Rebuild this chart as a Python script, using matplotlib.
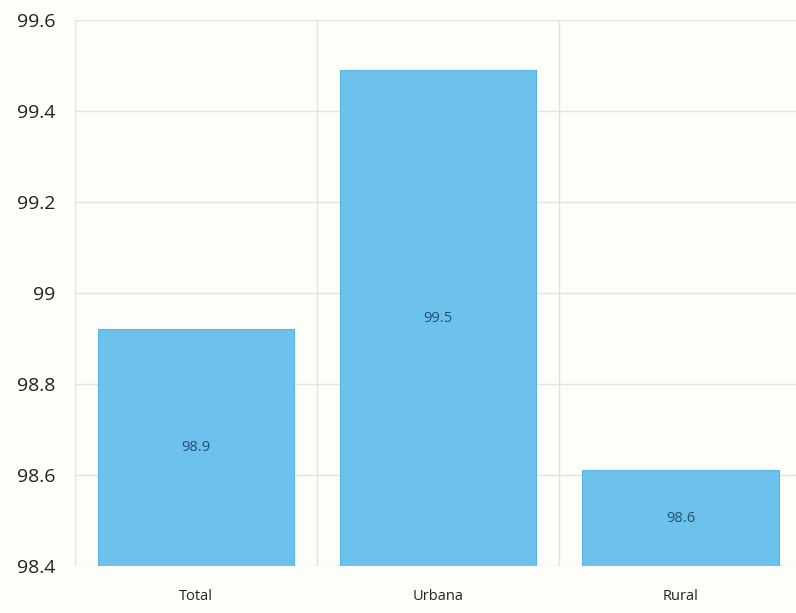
import matplotlib.pyplot as plt

categories = ["Total", "Urbana", "Rural"]
values = [98.92, 99.49, 98.61]
value_labels = ["98.9", "99.5", "98.6"]
yticks = [98.4, 98.6, 98.8, 99.0, 99.2, 99.4, 99.6]
ytick_labels = ["98.4", "98.6", "98.8", "99", "99.2", "99.4", "99.6"]

plt.rcParams["font.family"] = ["Open Sans", "DejaVu Sans"]

fig = plt.figure(figsize=(7.96, 6.13), dpi=100)
fig.patch.set_facecolor("#fdfdf9")
ax = fig.add_axes([0.094, 0.077, 0.913, 0.890])
ax.set_facecolor("#fdfdf9")

x = range(len(categories))
bars = ax.bar(x, [v - 98.4 for v in values], bottom=98.4, width=0.81,
              color="#6cc2ec", edgecolor="#5ab3e0", linewidth=0.8, zorder=3)

for b, lbl in zip(bars, value_labels):
    ax.text(b.get_x() + b.get_width() / 2, b.get_y() + b.get_height() / 2,
            lbl, ha="center", va="center", fontsize=10.5, color="#24506e",
            zorder=4)

ax.set_ylim(98.4, 99.6)
ax.set_xlim(-0.5, 2.5)
ax.set_yticks(yticks)
ax.set_yticklabels(ytick_labels, fontsize=14, color="#222222")
ax.set_xticks(list(x))
ax.set_xticklabels(categories, fontsize=10.5, color="#222222")

# grid: horizontal at ticks, vertical between categories
for y in yticks:
    ax.axhline(y, color="#e2e2e2", linewidth=1, zorder=1)
for xv in [-0.5, 0.5, 1.5, 2.5]:
    ax.axvline(xv, color="#e2e2e2", linewidth=1, zorder=1)

for s in ax.spines.values():
    s.set_visible(False)
ax.tick_params(axis="both", length=0)
ax.tick_params(axis="y", pad=14)
ax.tick_params(axis="x", pad=17)

plt.savefig("out.png", dpi=100, facecolor=fig.get_facecolor())
